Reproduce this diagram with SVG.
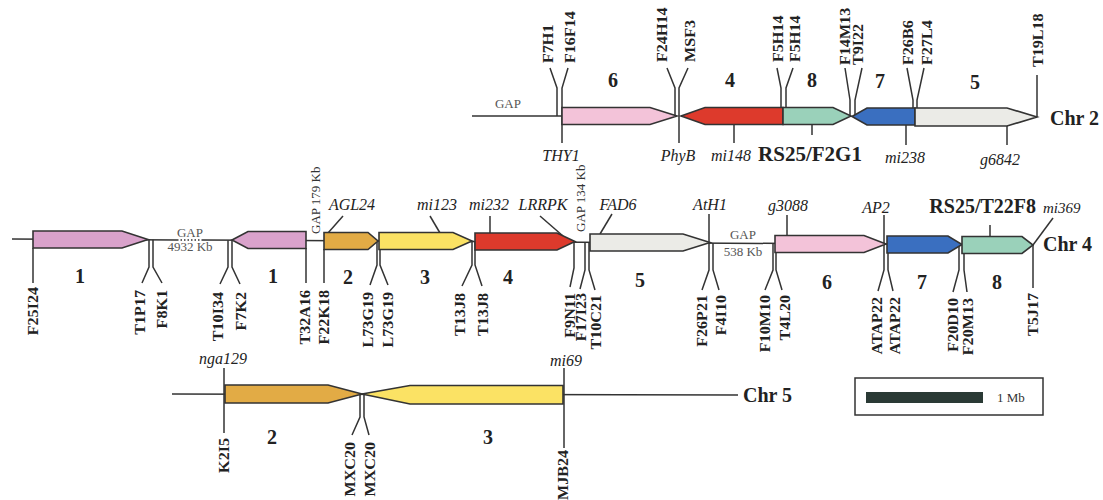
<svg xmlns="http://www.w3.org/2000/svg" width="1103" height="500" viewBox="0 0 1103 500">
<style>
.chr{stroke:#333;stroke-width:1.5;fill:none}
.box{stroke:#333;stroke-width:1.6;stroke-linejoin:miter}
.ln{stroke:#333;stroke-width:1.5;fill:none}
.mk{font-family:"Liberation Serif",serif;font-weight:bold;font-size:14px;fill:#222}
.gn{font-family:"Liberation Serif",serif;font-style:italic;font-size:16px;fill:#222;text-anchor:middle}
.num{font-family:"Liberation Serif",serif;font-weight:bold;font-size:20px;fill:#222;text-anchor:middle}
.big{font-family:"Liberation Serif",serif;font-weight:bold;font-size:21px;fill:#222}
.gap{font-family:"Liberation Serif",serif;font-size:13px;fill:#555}
.pink{fill:#f3c3d9}.mauve{fill:#d9a2cb}.orange{fill:#e2ab45}.yellow{fill:#fbe264}.red{fill:#dd3a2c}.green{fill:#9ad1ba}.blue{fill:#3a6fc0}.grey{fill:#ebebe7}
</style>
<rect width="1103" height="500" fill="#fff"/>

<g id="connectors">
<polyline class="ln" points="550,68 557,88 557,116"/>
<polyline class="ln" points="568,68 562,88 562,143"/>
<polyline class="ln" points="667,68 675,88 675,116"/>
<polyline class="ln" points="688,68 679,88 679,143"/>
<polyline class="ln" points="777,68 781,88 781,108"/>
<polyline class="ln" points="793,68 786,88 786,108"/>
<polyline class="ln" points="845,68 850,100 850,116"/>
<polyline class="ln" points="862,68 855,100 855,116"/>
<polyline class="ln" points="907,68 913,100 913,108"/>
<polyline class="ln" points="924,68 917,100 917,108"/>
<line class="ln" x1="1037" y1="75" x2="1037" y2="117"/>
<line class="ln" x1="734" y1="124" x2="734" y2="143"/>
<line class="ln" x1="812" y1="124" x2="812" y2="135"/>
<line class="ln" x1="906" y1="125" x2="906" y2="145"/>
<line class="ln" x1="1007" y1="125" x2="1007" y2="145"/>
<line class="ln" x1="33" y1="248" x2="33" y2="283"/>
<polyline class="ln" points="149,239.8 149,267 142,283"/>
<polyline class="ln" points="153,239.8 153,267 162,283"/>
<polyline class="ln" points="228,240.3 228,267 220,284"/>
<polyline class="ln" points="232,240.3 232,267 240,284"/>
<line class="ln" x1="306" y1="248" x2="306" y2="283"/>
<line class="ln" x1="324" y1="249" x2="324" y2="283"/>
<polyline class="ln" points="377,241 377,265 370,285"/>
<polyline class="ln" points="380,241 380,265 388,285"/>
<polyline class="ln" points="472,241.5 472,265 462,286"/>
<polyline class="ln" points="475,241.5 475,265 482,286"/>
<polyline class="ln" points="574,242 574,268 570,287"/>
<polyline class="ln" points="585,242 585,270 580,289"/>
<polyline class="ln" points="589,242 589,270 595,290"/>
<polyline class="ln" points="709,243 709,270 702,290"/>
<polyline class="ln" points="713,243 713,270 719,290"/>
<polyline class="ln" points="773,243.5 773,270 765,290"/>
<polyline class="ln" points="776,243.5 776,270 782,290"/>
<polyline class="ln" points="884,215 884,270 878,291"/>
<polyline class="ln" points="888,244.5 888,270 893,291"/>
<polyline class="ln" points="959,244.5 959,270 953,292"/>
<polyline class="ln" points="964,244.5 964,270 967,292"/>
<line class="ln" x1="1033" y1="245" x2="1033" y2="288"/>
<line class="ln" x1="343" y1="216" x2="328" y2="233"/>
<line class="ln" x1="430" y1="216" x2="440" y2="233"/>
<line class="ln" x1="490" y1="216" x2="490" y2="233"/>
<line class="ln" x1="540" y1="216" x2="563" y2="236"/>
<line class="ln" x1="612" y1="214" x2="600" y2="234"/>
<line class="ln" x1="709" y1="214" x2="709" y2="243"/>
<line class="ln" x1="787" y1="215" x2="787" y2="236"/>
<line class="ln" x1="990" y1="225" x2="990" y2="237"/>
<line class="ln" x1="1053" y1="218" x2="1033" y2="245"/>
<line class="ln" x1="224" y1="368" x2="224" y2="433"/>
<line class="ln" x1="564" y1="368" x2="564" y2="448"/>
<polyline class="ln" points="360,394 360,417 352,435"/>
<polyline class="ln" points="364,394 364,417 369,435"/>
</g>

<g id="chr2">
<line class="chr" x1="472" y1="116" x2="562" y2="116"/>
<g id="c2-b6"><polygon class="box pink" points="562,107.5 650,107.5 677,116 650,124.5 562,124.5"/></g>
<g id="c2-b4"><polygon class="box red" points="681,116 705,107.5 783,107.5 783,124.5 705,124.5"/></g>
<g id="c2-b8"><polygon class="box green" points="783,107.5 833,107.5 851,116 833,124.5 783,124.5"/></g>
<g id="c2-b7"><polygon class="box blue" points="852,116.5 867,108 915,108 915,125 867,125"/></g>
<g id="c2-b5"><polygon class="box grey" points="915,108 1007,108 1037,117 1007,126 915,126"/></g>
<text class="gap" x="508" y="108" text-anchor="middle">GAP</text>
<text class="big" x="1050" y="125" style="font-size:20px">Chr 2</text>
<text class="num" x="613" y="87">6</text>
<text class="num" x="730" y="87">4</text>
<text class="num" x="812" y="87">8</text>
<text class="num" x="880" y="88">7</text>
<text class="num" x="975" y="89">5</text>
<text class="gn" x="561" y="161">THY1</text>
<text class="gn" x="678" y="161">PhyB</text>
<text class="gn" x="731" y="161">mi148</text>
<text class="big" x="810" y="161" text-anchor="middle">RS25/F2G1</text>
<text class="gn" x="905" y="163">mi238</text>
<text class="gn" x="1000" y="165">g6842</text>
<g class="mk" text-anchor="start">
<text transform="translate(552.6,63) rotate(-90) scale(1.15,1)">F7H1</text>
<text transform="translate(574.6,63) rotate(-90) scale(1.15,1)">F16F14</text>
<text transform="translate(666.6,62) rotate(-90) scale(1.15,1)">F24H14</text>
<text transform="translate(694.6,62) rotate(-90) scale(1.15,1)">MSF3</text>
<text transform="translate(782.6,62) rotate(-90) scale(1.15,1)">F5H14</text>
<text transform="translate(799.6,62) rotate(-90) scale(1.15,1)">F5H14</text>
<text transform="translate(849.6,65) rotate(-90) scale(1.15,1)">F14M13</text>
<text transform="translate(862.6,65) rotate(-90) scale(1.15,1)">T9I22</text>
<text transform="translate(912.6,65) rotate(-90) scale(1.15,1)">F26B6</text>
<text transform="translate(931.6,65) rotate(-90) scale(1.15,1)">F27L4</text>
<text transform="translate(1042.6,67) rotate(-90) scale(1.15,1)">T19L18</text>
</g>
</g>

<g id="chr4">
<line class="chr" x1="12" y1="239" x2="177" y2="240"/>
<line class="chr" x1="177" y1="240" x2="203" y2="240" stroke-dasharray="1.5,2"/>
<line class="chr" x1="203" y1="240" x2="1033" y2="245"/>
<g id="c4-b1a"><polygon class="box mauve" points="33,231 122,231 148,239.5 122,248 33,248"/></g>
<g id="c4-b1b"><polygon class="box mauve" points="232,240 248,231.5 306,231.5 306,248.5 248,248.5"/></g>
<g id="c4-b2"><polygon class="box orange" points="324,232.5 368,232.5 378,241 368,249.5 324,249.5"/></g>
<g id="c4-b3"><polygon class="box yellow" points="379,232.5 453,232.5 472,241 453,249.5 379,249.5"/></g>
<g id="c4-b4"><polygon class="box red" points="475,233 557,233 575,241.5 557,250 475,250"/></g>
<g id="c4-b5"><polygon class="box grey" points="590,234 683,234 710,242.5 683,251 590,251"/></g>
<g id="c4-b6"><polygon class="box pink" points="775,235.5 864,235.5 886,244 864,252.5 775,252.5"/></g>
<g id="c4-b7"><polygon class="box blue" points="887,236 948,236 962,244.5 948,253 887,253"/></g>
<g id="c4-b8"><polygon class="box green" points="962,236.5 1022,236.5 1033,245 1022,253.5 962,253.5"/></g>
<text class="gap" x="190" y="237" text-anchor="middle">GAP</text>
<text class="gap" x="190" y="251" text-anchor="middle">4932 Kb</text>
<text class="gap" x="743" y="239" text-anchor="middle">GAP</text>
<text class="gap" x="743" y="256" text-anchor="middle">538 Kb</text>
<text class="gap" transform="translate(319.5,234) rotate(-90)" style="fill:#333">GAP 179 Kb</text>
<text class="gap" transform="translate(584.5,232) rotate(-90)" style="fill:#333">GAP 134 Kb</text>
<text class="big" x="1043" y="251" style="font-size:20px">Chr 4</text>
<text class="big" x="1036" y="213" text-anchor="end" style="font-size:20px">RS25/T22F8</text>
<text class="gn" x="352" y="210">AGL24</text>
<text class="gn" x="437" y="210">mi123</text>
<text class="gn" x="489" y="210">mi232</text>
<text class="gn" x="543" y="210">LRRPK</text>
<text class="gn" x="618" y="210">FAD6</text>
<text class="gn" x="710" y="210">AtH1</text>
<text class="gn" x="788" y="211">g3088</text>
<text class="gn" x="876" y="213">AP2</text>
<text class="gn" x="1043" y="213" style="font-size:15px;text-anchor:start">mi369</text>
<text class="num" x="80" y="283">1</text>
<text class="num" x="273" y="283">1</text>
<text class="num" x="348" y="284">2</text>
<text class="num" x="425" y="284">3</text>
<text class="num" x="508" y="284">4</text>
<text class="num" x="640" y="287">5</text>
<text class="num" x="827" y="289">6</text>
<text class="num" x="922" y="289">7</text>
<text class="num" x="997" y="289">8</text>
<g class="mk" text-anchor="end">
<text transform="translate(37.6,287) rotate(-90) scale(1.15,1)">F25I24</text>
<text transform="translate(144.6,290) rotate(-90) scale(1.15,1)">T1P17</text>
<text transform="translate(166.6,290) rotate(-90) scale(1.15,1)">F8K1</text>
<text transform="translate(222.6,292) rotate(-90) scale(1.15,1)">T10I34</text>
<text transform="translate(245.6,292) rotate(-90) scale(1.15,1)">F7K2</text>
<text transform="translate(309.6,290) rotate(-90) scale(1.15,1)">T32A16</text>
<text transform="translate(328.6,290) rotate(-90) scale(1.15,1)">F22K18</text>
<text transform="translate(372.6,292) rotate(-90) scale(1.15,1)">L73G19</text>
<text transform="translate(392.6,292) rotate(-90) scale(1.15,1)">L73G19</text>
<text transform="translate(464.6,293) rotate(-90) scale(1.15,1)">T13J8</text>
<text transform="translate(487.6,293) rotate(-90) scale(1.15,1)">T13J8</text>
<text transform="translate(574.6,293) rotate(-90) scale(1.15,1)">F9N11</text>
<text transform="translate(585.8,293) rotate(-90) scale(1.15,1)">F17I23</text>
<text transform="translate(600.6,295) rotate(-90) scale(1.15,1)">T10C21</text>
<text transform="translate(706.6,295) rotate(-90) scale(1.15,1)">F26P21</text>
<text transform="translate(725.6,295) rotate(-90) scale(1.15,1)">F4I10</text>
<text transform="translate(769.6,295) rotate(-90) scale(1.15,1)">F10M10</text>
<text transform="translate(789.6,295) rotate(-90) scale(1.15,1)">T4L20</text>
<text transform="translate(881.6,297) rotate(-90) scale(1.15,1)">ATAP22</text>
<text transform="translate(899.6,297) rotate(-90) scale(1.15,1)">ATAP22</text>
<text transform="translate(957.6,298) rotate(-90) scale(1.15,1)">F20D10</text>
<text transform="translate(972.6,298) rotate(-90) scale(1.15,1)">F20M13</text>
<text transform="translate(1037.6,293) rotate(-90) scale(1.15,1)">T5J17</text>
</g>
</g>

<g id="chr5">
<line class="chr" x1="172" y1="394" x2="738" y2="395"/>
<g id="c5-b2"><polygon class="box orange" points="225,385 328,385 362,394 328,403 225,403"/></g>
<g id="c5-b3"><polygon class="box yellow" points="362,394 410,385.5 563,385.5 563,404 410,404"/></g>
<text class="big" x="743" y="402" style="font-size:20px">Chr 5</text>
<text class="gn" x="223" y="364">nga129</text>
<text class="gn" x="566" y="366">mi69</text>
<text class="num" x="272" y="444">2</text>
<text class="num" x="488" y="444">3</text>
<g class="mk" text-anchor="end">
<text transform="translate(228.6,438) rotate(-90) scale(1.15,1)">K2I5</text>
<text transform="translate(354.6,442) rotate(-90) scale(1.15,1)">MXC20</text>
<text transform="translate(374.6,442) rotate(-90) scale(1.15,1)">MXC20</text>
<text transform="translate(567.6,450) rotate(-90) scale(1.15,1)">MJB24</text>
</g>
</g>

<g id="scale">
<rect x="855" y="378" width="188" height="37" fill="#fff" stroke="#333" stroke-width="1.5"/>
<rect x="866" y="392" width="117" height="11" fill="#2a3a35"/>
<text class="gap" x="997" y="402" style="fill:#333">1 Mb</text>
</g>
</svg>
